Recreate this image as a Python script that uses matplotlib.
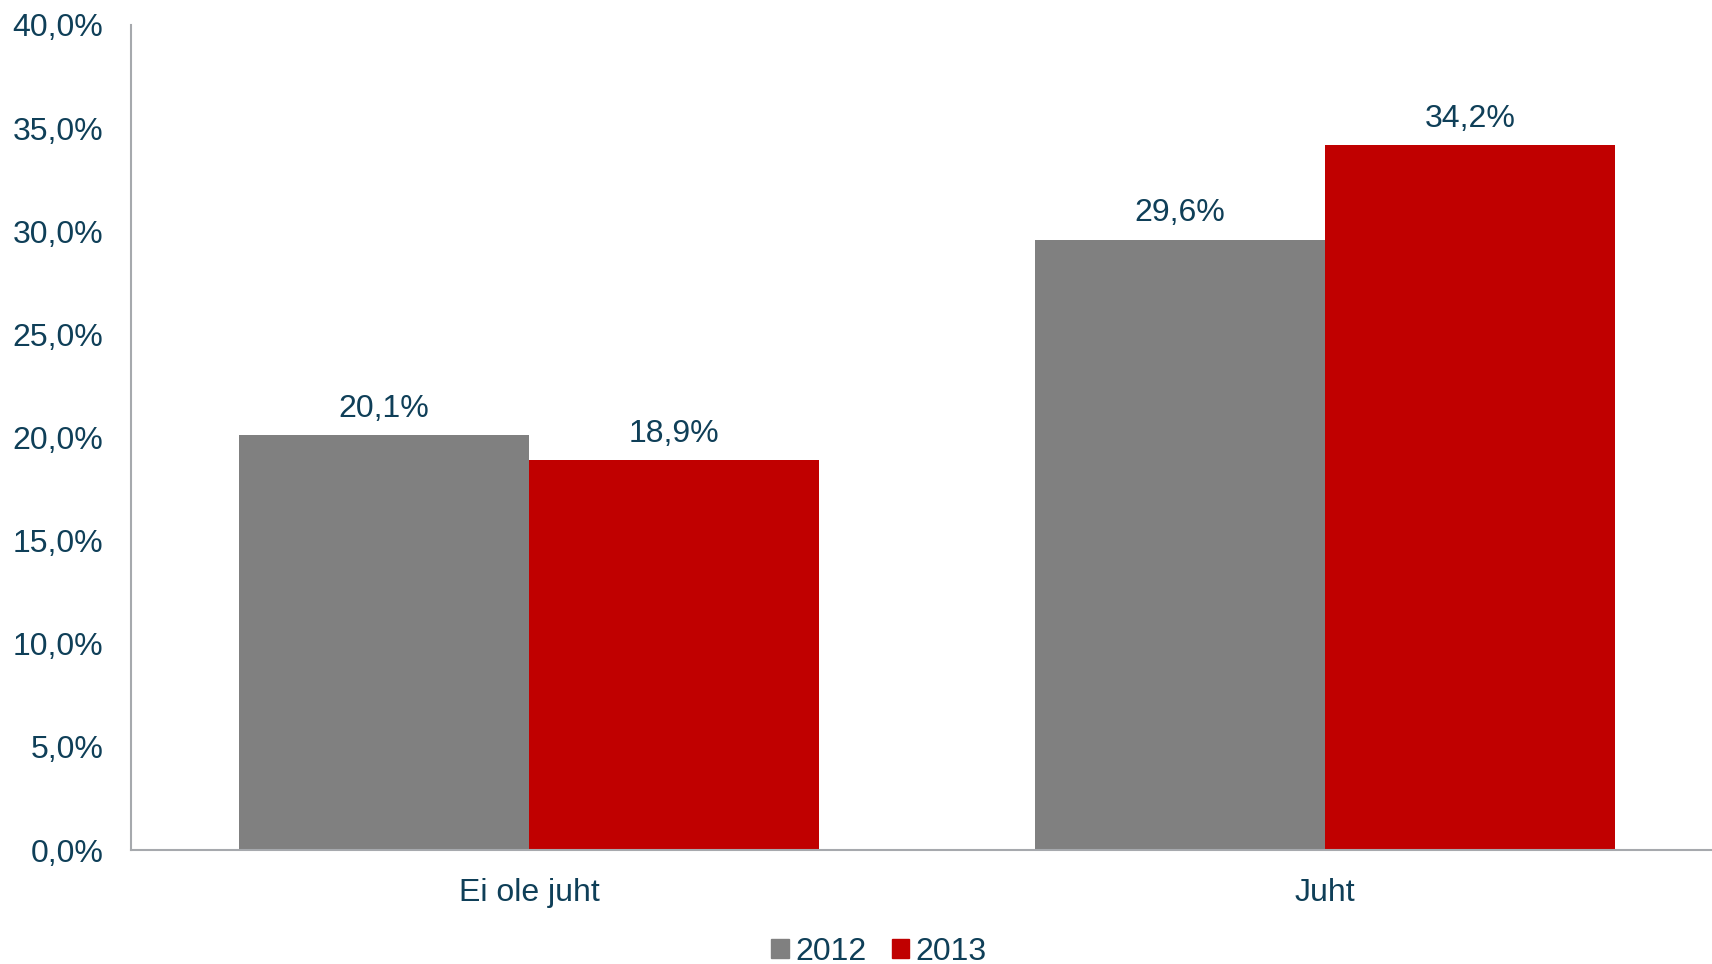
import numpy as np
import matplotlib.pyplot as plt
from matplotlib.patches import Patch

plt.rcParams['font.family'] = ['Liberation Sans', 'DejaVu Sans']

categories = ['Ei ole juht', 'Juht']
years = ['2012', '2013']
values_2012 = [20.1, 29.6]
values_2013 = [18.9, 34.2]
yticks = [0, 5, 10, 15, 20, 25, 30, 35, 40]

text_color = '#0F3F58'
colors = ['#808080', '#C00000']
fs = 23

fig = plt.figure(figsize=(17.12, 9.64), dpi=100)
ax = fig.add_axes([131 / 1712, 114 / 964, 1 - 131 / 1712, 825 / 964])

x = np.arange(len(categories))
w = 0.364
b1 = ax.bar(x - w / 2, values_2012, w, color=colors[0])
b2 = ax.bar(x + w / 2, values_2013, w, color=colors[1])

for bars in (b1, b2):
    for rect in bars:
        h = rect.get_height()
        ax.annotate(f'{h:.1f}%'.replace('.', ','),
                    (rect.get_x() + rect.get_width() / 2, h),
                    xytext=(0, 8), textcoords='offset points',
                    ha='center', va='bottom', fontsize=fs, color=text_color)

ax.set_xlim(-0.5, 1.486)
ax.set_ylim(0, 40)
ax.set_yticks(yticks)
ax.set_yticklabels([f'{v:.1f}%'.replace('.', ',') for v in yticks])
ax.set_xticks(x)
ax.set_xticklabels(categories)
ax.tick_params(axis='both', length=0, labelsize=fs, labelcolor=text_color)
ax.tick_params(axis='y', pad=20)
ax.tick_params(axis='x', pad=20)

for s in ('top', 'right'):
    ax.spines[s].set_visible(False)
for s in ('left', 'bottom'):
    ax.spines[s].set_color('#A6A9AD')
    ax.spines[s].set_linewidth(1.5)

handles = [Patch(color=c, label=y) for c, y in zip(colors, years)]
fig.legend(handles=handles, loc='center', bbox_to_anchor=(879 / 1712, 12 / 964),
           ncol=2, frameon=False, fontsize=fs, labelcolor=text_color,
           handlelength=0.55, handleheight=0.55, handletextpad=0.2,
           columnspacing=0.8, borderpad=0)

fig.savefig('out.png', dpi=100)
